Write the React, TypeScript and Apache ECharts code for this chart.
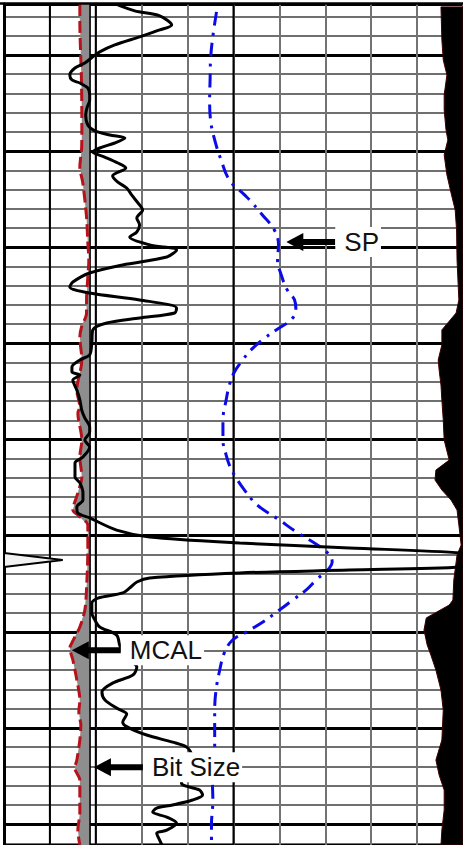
import React, { useEffect, useRef } from "react";
import * as echarts from "echarts";

// ---- Depth (ft) ----
const DEPTH_TOP = 23.5;
const DEPTH_BOTTOM = 460.9;
const MINOR_STEP = 10;
const MAJOR_STEP = 50;

// ---- Track scales ----
const GR_SCALE = [0, 150]; // API
const SP_SCALE = [-80, 20]; // mV
const CAL_SCALE = [6, 16]; // in
const DIV_SCALE = [0, 10]; // grid divisions
const HEAVY_DIVISIONS = [1, 2, 5];

const BIT_SIZE = 7.875; // in

// [GR (API), depth (ft)]
const GR_CURVE: number[][] = [
  [37.2, 24.0], [42.7, 27.1], [50.9, 29.7], [54.8, 34.4], [50.9, 37.0], [44.3, 40.6], [36.2, 44.8], [31.3, 48.4],
  [29.0, 51.0], [26.4, 54.2], [23.2, 56.8], [21.5, 60.4], [22.2, 63.0], [24.8, 64.6], [27.4, 67.2], [28.0, 70.8],
  [28.0, 73.4], [27.1, 77.6], [26.7, 81.2], [27.4, 86.4], [29.7, 89.5], [34.6, 91.6], [39.5, 93.2], [36.2, 95.8],
  [31.3, 98.4], [29.0, 100.5], [32.9, 103.1], [37.2, 106.2], [39.8, 108.8], [35.5, 112.9], [37.2, 116.1], [40.1, 119.2],
  [41.7, 122.8], [44.3, 128.0], [45.3, 130.6], [43.4, 134.8], [44.3, 138.4], [43.4, 142.1], [41.1, 144.7], [47.6, 148.8],
  [56.4, 151.4], [53.2, 155.1], [38.8, 159.2], [28.0, 163.4], [22.5, 168.1], [21.5, 170.7], [28.0, 173.8], [44.3, 177.4],
  [56.4, 181.6], [55.8, 184.2], [44.3, 186.8], [33.6, 189.4], [29.0, 193.0], [28.7, 199.8], [28.0, 206.0], [24.8, 208.6],
  [22.2, 212.3], [22.2, 214.9], [24.8, 216.5], [22.5, 219.1], [23.8, 224.3], [24.8, 229.5], [25.4, 234.7], [26.4, 238.8],
  [28.0, 243.5], [28.0, 246.1], [26.4, 250.3], [28.0, 253.9], [25.8, 259.1], [23.2, 262.2], [23.2, 269.5], [24.8, 272.6],
  [25.8, 277.8], [25.8, 281.5], [23.8, 285.1], [24.1, 288.2], [28.0, 290.8], [36.8, 297.1], [47.6, 300.7], [77.0, 303.8],
  [112.8, 306.4], [149.7, 309.0], [169.2, 312.7], [149.7, 316.3], [112.8, 317.9], [77.0, 319.4], [47.6, 322.0], [43.4, 324.1],
  [41.1, 327.2], [38.8, 329.8], [30.7, 332.5], [28.7, 335.1], [28.7, 340.3], [29.7, 343.9], [31.3, 347.5], [36.8, 351.7],
  [37.8, 356.9], [38.8, 361.0], [41.1, 364.7], [43.4, 368.3], [42.1, 372.5], [35.5, 376.7], [32.0, 381.3], [33.0, 385.5],
  [36.8, 389.7], [40.1, 392.8], [38.8, 397.0], [40.4, 399.6], [46.6, 403.7], [55.1, 407.4], [59.7, 410.0], [61.3, 414.1],
  [59.3, 420.9], [58.0, 428.7], [63.9, 432.3], [64.9, 434.9], [61.6, 437.5], [55.1, 440.1], [49.9, 441.7], [48.6, 443.8],
  [53.2, 446.4], [56.4, 449.6], [53.2, 453.2], [49.9, 454.8], [50.9, 458.5], [51.8, 461.4],
];

// [SP (mV), depth (ft)]
const SP_CURVE: number[][] = [
  [-33.7, 27.6], [-34.6, 42.2], [-35.0, 52.6], [-35.1, 63.0], [-35.2, 73.4], [-35.0, 83.8], [-34.1, 94.2], [-32.7, 104.6],
  [-30.9, 115.0], [-27.6, 122.8], [-26.5, 125.4], [-23.7, 133.2], [-21.1, 141.0], [-20.2, 148.8], [-20.4, 156.6], [-19.6, 164.4],
  [-18.3, 172.2], [-16.7, 177.4], [-16.4, 182.6], [-17.5, 187.8], [-20.7, 193.0], [-23.7, 198.2], [-26.2, 203.4], [-28.0, 208.6],
  [-29.8, 214.9], [-30.9, 221.7], [-31.6, 229.5], [-32.3, 239.9], [-32.3, 250.3], [-31.6, 258.1], [-30.9, 263.3], [-29.4, 270.0],
  [-27.6, 276.3], [-24.8, 284.1], [-20.0, 291.9], [-16.3, 298.1], [-11.7, 304.9], [-9.1, 310.0], [-8.5, 313.7], [-9.1, 316.8],
  [-12.0, 323.1], [-14.2, 328.3], [-17.1, 333.5], [-20.0, 338.7], [-23.6, 344.9], [-27.2, 350.1], [-30.2, 354.3], [-32.0, 361.0],
  [-33.0, 369.9], [-33.8, 380.3], [-34.1, 390.7], [-34.1, 411.5], [-34.6, 427.1], [-34.5, 437.5], [-34.8, 450.5], [-34.8, 460.9],
];

// [MCAL (in), depth (ft)]
const MCAL_CURVE: number[][] = [
  [7.652, 23.5], [7.652, 31.8], [7.689, 64.6], [7.696, 90.6], [7.689, 99.4], [7.652, 108.3], [7.717, 116.6], [7.798, 134.3],
  [7.826, 147.8], [7.848, 156.6], [7.826, 165.5], [7.798, 177.4], [7.798, 184.2], [7.689, 191.5], [7.652, 196.7], [7.696, 208.6],
  [7.587, 224.3], [7.652, 233.1], [7.609, 236.2], [7.696, 250.3], [7.652, 259.1], [7.696, 269.5], [7.609, 277.8], [7.5, 286.7],
  [7.609, 289.3], [7.826, 294.5], [7.826, 307.5], [7.804, 324.6], [7.761, 338.7], [7.652, 347.5], [7.478, 355.8], [7.435, 358.4],
  [7.5, 364.7], [7.587, 375.1], [7.652, 385.5], [7.630, 391.7], [7.674, 398.5], [7.652, 406.3], [7.587, 416.7], [7.543, 420.9],
  [7.652, 427.1], [7.652, 444.2], [7.609, 453.1], [7.652, 460.9],
];

// [right-hand shaded trace (divisions), depth (ft)]
const EDGE_TRACE: number[][] = [
  [9.52, 25.0], [9.54, 42.2], [9.57, 52.6], [9.65, 60.4], [9.59, 70.8], [9.59, 78.6], [9.63, 89.0], [9.67, 94.2],
  [9.59, 102.0], [9.65, 112.4], [9.75, 122.8], [9.83, 130.6], [9.86, 141.0], [9.87, 156.6], [9.91, 177.4], [9.85, 184.2],
  [9.54, 193.0], [9.54, 200.8], [9.46, 208.6], [9.48, 213.8], [9.52, 221.7], [9.54, 229.5], [9.57, 239.9], [9.59, 250.3],
  [9.70, 260.7], [9.41, 265.9], [9.39, 271.1], [9.54, 276.3], [9.74, 281.5], [9.87, 286.7], [9.91, 294.5], [9.96, 304.9],
  [9.87, 310.1], [9.80, 323.1], [9.78, 333.5], [9.70, 336.1], [9.20, 342.8], [9.15, 349.1], [9.22, 356.9], [9.30, 362.1],
  [9.41, 369.9], [9.52, 380.3], [9.57, 390.7], [9.54, 406.3], [9.41, 416.7], [9.48, 424.5], [9.59, 432.3], [9.59, 442.7],
  [9.54, 453.1], [9.52, 460.9],
];

// Callouts: label, axis ("sp" | "cal"), value at arrow tip, depth (ft)
const CALLOUT_LABELS = ["SP", "MCAL", "Bit Size"];
const CALLOUT_AXES = ["sp", "cal", "cal"];
const CALLOUT_VALUES = [-18.5, 7.478, 7.96];
const CALLOUT_DEPTHS = [147.3, 359.6, 420.4];

const FONT = "'Liberation Sans', Arial, sans-serif";

export default function App() {
  const ref = useRef<HTMLDivElement>(null);

  useEffect(() => {
    if (!ref.current) return;
    const chart = echarts.init(ref.current, undefined, { renderer: "svg" });

    const AX = { div: 0, gr: 1, sp: 2, cal: 3 } as Record<string, number>;

    const hiddenX = (min: number, max: number) => ({
      type: "value",
      min,
      max,
      show: false,
      splitLine: { show: false },
    });

    const polygonSeries = (name: string, xAxisIndex: number, points: number[][], style: any, z: number) => ({
      type: "custom",
      name,
      xAxisIndex,
      yAxisIndex: 0,
      clip: true,
      z,
      silent: true,
      data: [[points[0][0], points[0][1]]],
      renderItem: (_p: any, api: any) => ({
        type: "polygon",
        shape: { points: points.map((p) => api.coord(p)) },
        style,
      }),
    });

    // fill between MCAL and bit size
    const mcalFillPts = [
      ...MCAL_CURVE,
      [BIT_SIZE, MCAL_CURVE[MCAL_CURVE.length - 1][1]],
      [BIT_SIZE, MCAL_CURVE[0][1]],
    ];
    // black shading to the right edge
    const edgeFillPts = [
      ...EDGE_TRACE,
      [DIV_SCALE[1], EDGE_TRACE[EDGE_TRACE.length - 1][1]],
      [DIV_SCALE[1], EDGE_TRACE[0][1]],
    ];
    // GR wrap-around (values beyond the track's right edge)
    const over = GR_CURVE.map((p, i) => (p[0] > GR_SCALE[1] ? i : -1)).filter((i) => i >= 0);
    const first = over[0];
    const last = over[over.length - 1];
    const wrapPts = [
      [GR_SCALE[0], GR_CURVE[first - 1][1]],
      ...over.map((i) => [GR_CURVE[i][0] - (GR_SCALE[1] - GR_SCALE[0]), GR_CURVE[i][1]]),
      [GR_SCALE[0], GR_CURVE[last + 1][1]],
    ];

    const calloutSeries = CALLOUT_LABELS.map((label, i) => ({
      type: "custom",
      name: label,
      xAxisIndex: AX[CALLOUT_AXES[i]],
      yAxisIndex: 0,
      z: 20,
      silent: true,
      clip: false,
      data: [[CALLOUT_VALUES[i], CALLOUT_DEPTHS[i]]],
      renderItem: (_p: any, api: any) => {
        const [tx, ty] = api.coord([api.value(0), api.value(1)]);
        return {
          type: "group",
          children: [
            {
              type: "polygon",
              shape: { points: [[tx, ty], [tx + 17, ty - 9], [tx + 17, ty + 9]] },
              style: { fill: "#000" },
            },
            {
              type: "rect",
              shape: { x: tx + 15, y: ty - 3, width: 34, height: 6 },
              style: { fill: "#000" },
            },
            {
              type: "text",
              x: tx + 49,
              y: ty,
              style: {
                text: label,
                fill: "#111",
                font: `26px ${FONT}`,
                verticalAlign: "middle",
                align: "left",
                backgroundColor: "#fff",
                padding: [3, 2, 1, 9],
              },
            },
          ],
        };
      },
    }));

    const option: any = {
      animation: false,
      backgroundColor: "#fff",
      grid: { left: 4, top: 4, width: 460, height: 841, containLabel: false },
      xAxis: [
        {
          type: "value",
          min: DIV_SCALE[0],
          max: DIV_SCALE[1],
          interval: 1,
          axisLine: { show: false },
          axisTick: { show: false },
          axisLabel: { show: false },
          splitLine: { show: true, lineStyle: { color: "#737373", width: 2 } },
        },
        hiddenX(GR_SCALE[0], GR_SCALE[1]),
        hiddenX(SP_SCALE[0], SP_SCALE[1]),
        hiddenX(CAL_SCALE[0], CAL_SCALE[1]),
      ],
      yAxis: [
        {
          type: "value",
          inverse: true,
          min: DEPTH_TOP,
          max: DEPTH_BOTTOM,
          minInterval: MINOR_STEP,
          maxInterval: MINOR_STEP,
          axisLine: { show: true, onZero: false, lineStyle: { color: "#000", width: 3 } },
          axisTick: { show: false },
          axisLabel: { show: false },
          splitLine: { show: true, lineStyle: { color: "#6f6f6f", width: 2 } },
        },
        {
          type: "value",
          inverse: true,
          min: DEPTH_TOP,
          max: DEPTH_BOTTOM,
          minInterval: MAJOR_STEP,
          maxInterval: MAJOR_STEP,
          axisLine: { show: false },
          axisTick: { show: false },
          axisLabel: { show: false },
          splitLine: { show: true, lineStyle: { color: "#000", width: 2.8 } },
        },
      ],
      graphic: [
        {
          type: "line",
          shape: { x1: 0, y1: 3.5, x2: 463, y2: 3.5 },
          style: { stroke: "#000", lineWidth: 2.5 },
          z: 30,
        },
      ],
      series: [
        {
          type: "custom",
          name: "heavy divisions",
          xAxisIndex: 0,
          yAxisIndex: 0,
          z: 1,
          silent: true,
          data: HEAVY_DIVISIONS.map((d) => [d]),
          renderItem: (_p: any, api: any) => {
            const a = api.coord([api.value(0), DEPTH_TOP]);
            const b = api.coord([api.value(0), DEPTH_BOTTOM]);
            return {
              type: "line",
              shape: { x1: a[0], y1: a[1], x2: b[0], y2: b[1] },
              style: { stroke: "#000", lineWidth: 2 },
            };
          },
        },
        polygonSeries("edge shading", AX.div, edgeFillPts, { fill: "#000", stroke: "#3a0000", lineWidth: 1 }, 3),
        polygonSeries("MCAL fill", AX.cal, mcalFillPts, { fill: "#8e8e8e" }, 3),
        polygonSeries("GR wrap", AX.gr, wrapPts, { fill: "#f2f2f2", stroke: "#000", lineWidth: 2 }, 5),
        {
          type: "line",
          name: "Bit Size",
          xAxisIndex: AX.cal,
          yAxisIndex: 0,
          data: [[BIT_SIZE, DEPTH_TOP], [BIT_SIZE, DEPTH_BOTTOM]],
          symbol: "none",
          silent: true,
          z: 4,
          lineStyle: { color: "#000", width: 1.6 },
        },
        {
          type: "line",
          name: "MCAL",
          xAxisIndex: AX.cal,
          yAxisIndex: 0,
          data: MCAL_CURVE,
          symbol: "none",
          smooth: 0.3,
          silent: true,
          clip: true,
          z: 5,
          lineStyle: { color: "#b5121b", width: 3, type: [12, 5] },
        },
        {
          type: "line",
          name: "SP",
          xAxisIndex: AX.sp,
          yAxisIndex: 0,
          data: SP_CURVE,
          symbol: "none",
          smooth: 0.4,
          silent: true,
          clip: true,
          z: 6,
          lineStyle: { color: "#0b0be6", width: 3, type: [14, 7, 3, 7] },
        },
        {
          type: "line",
          name: "GR",
          xAxisIndex: AX.gr,
          yAxisIndex: 0,
          data: GR_CURVE,
          symbol: "none",
          smooth: 0.3,
          silent: true,
          clip: true,
          z: 7,
          lineStyle: { color: "#000", width: 3 },
        },
        ...calloutSeries,
      ],
    };

    chart.setOption(option);
    return () => chart.dispose();
  }, []);

  return (
    <div
      ref={ref}
      style={{ position: "fixed", left: 0, top: 0, width: 463, height: 845, background: "#fff" }}
    />
  );
}
